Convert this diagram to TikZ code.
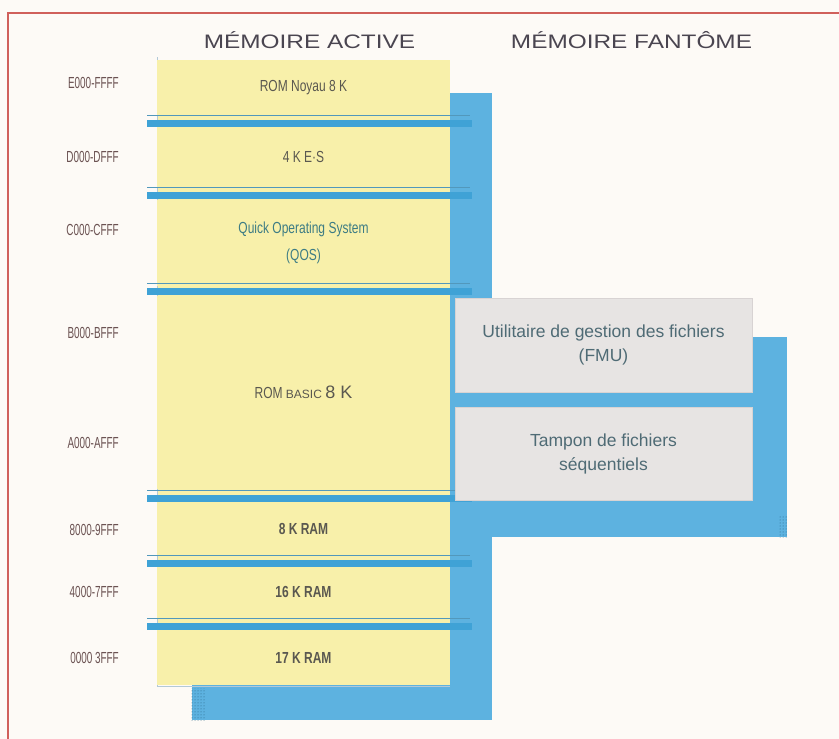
\documentclass[tikz,border=0pt]{standalone}
\usepackage{fontspec}
\usepackage{xcolor}
\usepackage{tikz}
\usetikzlibrary{positioning,patterns}
\setmainfont{Liberation Sans}
\newfontfamily\plainfont{Liberation Sans}
\newfontfamily\narrowfont[FakeStretch=0.62]{Liberation Sans}
\newfontfamily\medfont[FakeStretch=0.75]{Liberation Sans}
\newfontfamily\widefont[FakeStretch=1.25]{Liberation Sans}
\definecolor{paper}{HTML}{FDFAF6}
\definecolor{redx}{HTML}{D0605B}
\definecolor{bluex}{HTML}{5DB2E0}
\definecolor{barx}{HTML}{3FA2D6}
\definecolor{yellowx}{HTML}{F8F0AA}
\definecolor{grayx}{HTML}{E7E4E3}
\definecolor{grayline}{HTML}{D8D3D3}
\definecolor{inkx}{HTML}{4A4550}
\definecolor{adrx}{HTML}{6B5252}
\definecolor{blkx}{HTML}{5A5850}
\definecolor{tealx}{HTML}{3D7C84}
\definecolor{fantx}{HTML}{4F6B75}
\tikzset{
  titre/.style={text=inkx,font=\widefont\fontsize{19.5}{22}\selectfont,inner sep=0pt},
  adr/.style={anchor=east,text=adrx,inner sep=0pt,font=\narrowfont\fontsize{16}{18}\selectfont},
  blk/.style={fill=yellowx,minimum width=293pt,inner sep=0pt,align=center,text=blkx,
    font=\medfont\fontsize{16}{27}\selectfont},
  ram/.style={blk,font=\medfont\bfseries\fontsize{16}{20}\selectfont},
  fbox/.style={fill=grayx,draw=grayline,minimum width=297pt,inner sep=0pt,align=center,
    text=fantx,font=\fontsize{17.5}{24}\selectfont},
  barline/.style={barx!70!gray,line width=0.8pt}
}
\begin{document}
\begin{tikzpicture}[x=1pt,y=-1pt]
\useasboundingbox (0,0) rectangle (839,739);
\fill[paper] (0,0) rectangle (839,739);
\draw[redx,line width=1.2pt] (8,739) -- (8,13) -- (839,13);
% titles
\node[titre] (tactive) at (309.5,40) {MÉMOIRE ACTIVE};
\node[titre] (tfantome) at (631.5,40) {MÉMOIRE FANTÔME};
% shadows
\fill[bluex] (192,93) rectangle (492,720);
\fill[bluex] (450,337) rectangle (787,537);
\fill[pattern=dots,pattern color=barx!60!black] (190,688) rectangle (206,720);
\fill[pattern=dots,pattern color=barx!60!black] (778,515) rectangle (787,537);
% active memory column
\fill[yellowx] (157,60) rectangle (450,685);
\draw[grayline!70!bluex,line width=0.8pt] (157,57) -- (157,686) -- (450,686);
\node[blk,minimum height=55pt] (noyau) at (303.5,87.5) {ROM Noyau 8 K};
\node[blk,minimum height=60pt] (es) at (303.5,157) {4 K E·S};
\node[blk,minimum height=86pt,text=tealx] (qos) at (303.5,243) {Quick Operating System\\(QOS)};
\node[blk,minimum height=193pt] (basic) at (303.5,392)
  {ROM {\plainfont\fontsize{12}{14}\selectfont BASIC} {\plainfont\fontsize{18}{20}\selectfont 8 K}};
\node[ram,minimum height=53pt] (ram8) at (303.5,528.5) {8 K RAM};
\node[ram,minimum height=53pt] (ram16) at (303.5,591.5) {16 K RAM};
\node[ram,minimum height=55pt] (ram17) at (303.5,657.5) {17 K RAM};
\foreach \y in {115,187,283,490,555,618}{
  \draw[barline] (147,\y) -- (470,\y);
  \fill[barx] (147,\y+5) rectangle (472,\y+12);
}
% ghost memory
\node[fbox,minimum height=94pt] (fmu) at (603.5,345) {Utilitaire de gestion des fichiers\\(FMU)};
\node[fbox,minimum height=93pt] (tampon) at (603.5,453.5) {Tampon de fichiers\\séquentiels};
% addresses
\foreach \ad/\yy [count=\i] in {E000-FFFF/83,D000-DFFF/157,C000-CFFF/230,B000-BFFF/333,
  A000-AFFF/443,8000-9FFF/530,4000-7FFF/592,0000 3FFF/658}
  \node[adr] (adr\i) at (119,\yy) {\ad};
\end{tikzpicture}
\end{document}
